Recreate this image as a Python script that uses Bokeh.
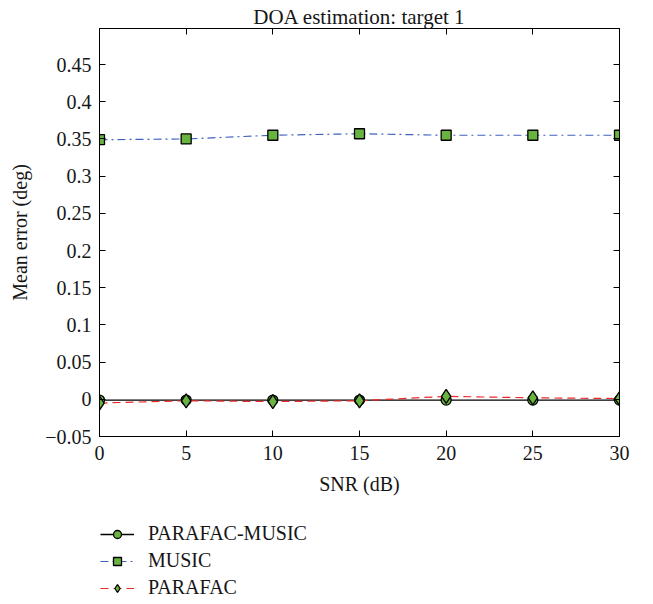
from bokeh.plotting import figure
from bokeh.models import Range1d, FixedTicker, LinearAxis, Legend, LegendItem
from bokeh.layouts import column
from bokeh.embed import file_html
from bokeh.resources import INLINE

snr = [0, 5, 10, 15, 20, 25, 30]
parafac_music = [-0.001, -0.001, -0.001, -0.001, -0.001, -0.001, -0.001]
music = [0.349, 0.350, 0.355, 0.357, 0.355, 0.355, 0.355]
parafac = [-0.005, -0.002, -0.003, -0.002, 0.004, 0.002, 0.001]
x_ticks = [0, 5, 10, 15, 20, 25, 30]
y_ticks = [-0.05, 0, 0.05, 0.1, 0.15, 0.2, 0.25, 0.3, 0.35, 0.4, 0.45]
series_names = ["PARAFAC-MUSIC", "MUSIC", "PARAFAC"]

FONT = "Liberation Serif"
GREEN = "#69b341"
TXT = "#161616"
BLUE = "#3f62bf"
RED = "#ee2a2a"

p = figure(width=653, height=506, output_backend="svg", toolbar_location=None,
           x_range=Range1d(0, 30), y_range=Range1d(-0.05, 0.4985),
           title="DOA estimation: target 1",
           min_border_left=99, min_border_right=34, min_border_top=28,
           min_border_bottom=70)
p.background_fill_color = "white"
p.border_fill_color = "white"
p.outline_line_color = "black"
p.outline_line_width = 1
p.grid.visible = False

p.title.align = "center"
p.title.text_font = FONT
p.title.text_font_style = "normal"
p.title.text_font_size = "21px"
p.title.text_color = TXT
p.title.standoff = 0

for ax in [p.xaxis[0], p.yaxis[0]]:
    ax.axis_line_color = "black"
    ax.major_tick_in = 6
    ax.major_tick_out = 0
    ax.minor_tick_line_color = None
    ax.major_label_text_font = FONT
    ax.major_label_text_font_size = "20px"
    ax.major_label_text_color = TXT
    ax.axis_label_text_font = FONT
    ax.axis_label_text_font_style = "normal"
    ax.axis_label_text_font_size = "20px"
    ax.axis_label_text_color = TXT

p.xaxis.ticker = FixedTicker(ticks=x_ticks)
p.yaxis.ticker = FixedTicker(ticks=y_ticks)
p.xaxis.axis_label = "SNR (dB)"
p.yaxis.axis_label = "Mean error (deg)"
p.xaxis.major_label_standoff = 9
p.yaxis.major_label_standoff = 8
p.xaxis.axis_label_standoff = 10
p.yaxis.axis_label_standoff = 11

top = LinearAxis(ticker=FixedTicker(ticks=x_ticks), major_label_text_color=None,
                 major_label_text_font_size="1px", major_label_standoff=0,
                 major_tick_in=6, major_tick_out=0, minor_tick_line_color=None)
right = LinearAxis(ticker=FixedTicker(ticks=y_ticks), major_label_text_color=None,
                   major_label_text_font_size="1px", major_label_standoff=0,
                   major_tick_in=6, major_tick_out=0, minor_tick_line_color=None)
p.add_layout(top, "above")
p.add_layout(right, "right")

p.line(snr, parafac_music, line_color="black", line_width=1.3)
p.scatter(snr, parafac_music, marker="circle", size=10, fill_color=GREEN,
          line_color="black", line_width=1.3)
p.line(snr, music, line_color=BLUE, line_width=1.2, line_dash="8 4 2 4")
p.scatter(snr, music, marker="square", size=10, fill_color=GREEN,
          line_color="black", line_width=1.3)
p.line(snr, parafac, line_color=RED, line_width=1.2, line_dash="8 5")
p.scatter(snr, parafac, marker="diamond", size=14, fill_color=GREEN,
          line_color="black", line_width=1.3)

# legend panel below the chart (its renderers lie outside its visible ranges)
q = figure(width=653, height=98, output_backend="svg", toolbar_location=None,
           x_range=Range1d(1000, 1001), y_range=Range1d(1000, 1001),
           min_border_left=0, min_border_right=0, min_border_top=0,
           min_border_bottom=0, x_axis_location=None, y_axis_location=None)
q.outline_line_color = None
q.grid.visible = False
q.background_fill_color = "white"
q.border_fill_color = "white"

e1 = q.line(snr, parafac_music, line_color="black", line_width=1.3)
k1 = q.scatter(snr, parafac_music, marker="circle", size=8, fill_color=GREEN,
               line_color="black", line_width=1.3)
e2 = q.line(snr, music, line_color=BLUE, line_width=1.2, line_dash="8 4 2 4")
k2 = q.scatter(snr, music, marker="square", size=8, fill_color=GREEN,
               line_color="black", line_width=1.3)
e3 = q.line(snr, parafac, line_color=RED, line_width=1.2, line_dash="8 5")
k3 = q.scatter(snr, parafac, marker="diamond", size=10, fill_color=GREEN,
               line_color="black", line_width=1.3)

legend = Legend(items=[
    LegendItem(label=series_names[0], renderers=[e1, k1]),
    LegendItem(label=series_names[1], renderers=[e2, k2]),
    LegendItem(label=series_names[2], renderers=[e3, k3]),
], location=(1, 5))
legend.border_line_color = None
legend.background_fill_alpha = 0
legend.label_text_font = FONT
legend.label_text_font_size = "20px"
legend.label_text_color = TXT
legend.glyph_width = 34
legend.glyph_height = 20
legend.label_standoff = 14
legend.spacing = 4
legend.padding = 0
legend.margin = 0
q.add_layout(legend, "center")

layout = column(p, q, spacing=0)
open("out.html", "w").write(file_html(layout, INLINE))
